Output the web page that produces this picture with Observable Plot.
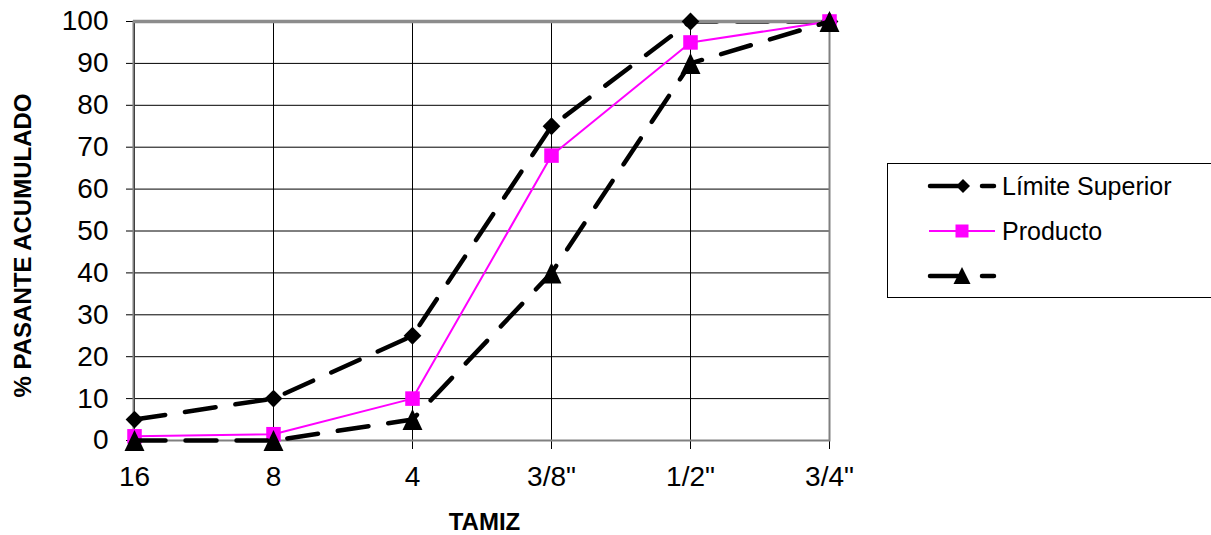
<!DOCTYPE html>
<html><head><meta charset="utf-8">
<script src="https://cdn.jsdelivr.net/npm/d3@7"></script>
<script src="https://cdn.jsdelivr.net/npm/@observablehq/plot@0.6"></script>
<style>
body{margin:0;background:#fff}
#chart{position:relative;width:1211px;height:535px;overflow:hidden}
</style>
</head><body><div id="chart"></div>
<script>
// ---- data ----
const tamiz = ["16", "8", "4", "3/8\"", "1/2\"", "3/4\""];
const limiteSuperior = [5, 10, 25, 75, 100, 100];
const producto = [1, 1.5, 10, 68, 95, 100];
const limiteInferior = [0, 0, 5, 40, 90, 100];
const yTicks = [0, 10, 20, 30, 40, 50, 60, 70, 80, 90, 100];
const legendLabels = ["Límite Superior", "Producto", ""];
const xTitle = "TAMIZ";
const yTitle = "% PASANTE ACUMULADO";

const rows = (vals, s) => tamiz.map((t, i) => ({tamiz: t, value: vals[i], serie: s}));
const sup = rows(limiteSuperior, "sup");
const prod = rows(producto, "prod");
const inf = rows(limiteInferior, "inf");

const FONT = "'Liberation Sans', Arial, sans-serif";
const DASH = "31,20";

// bounding-box centred triangle
const triangle = {
  draw(ctx, size) {
    const r = Math.sqrt(size / Math.PI);
    ctx.moveTo(0, -1.4 * r);
    ctx.lineTo(1.33 * r, 1.4 * r);
    ctx.lineTo(-1.33 * r, 1.4 * r);
    ctx.closePath();
  }
};

const plot = Plot.plot({
  width: 1211,
  height: 535,
  marginLeft: 133,
  marginRight: 382,
  marginTop: 21,
  marginBottom: 95,
  style: {fontFamily: FONT, fontSize: "28px", color: "black", background: "white"},
  x: {type: "point", domain: tamiz, padding: 0},
  y: {domain: [0, 100]},
  marks: [
    Plot.gridY(yTicks, {stroke: "black", strokeOpacity: 1, strokeWidth: 1}),
    Plot.gridX(tamiz, {stroke: "black", strokeOpacity: 1, strokeWidth: 1}),
    Plot.axisY(yTicks, {tickSize: 7, tickPadding: 18, label: null, stroke: "black"}),
    Plot.axisX(tamiz, {tickSize: 9, tickPadding: 17, label: null, stroke: "black"}),
    Plot.frame({stroke: "#808080", strokeWidth: 2}),
    Plot.line(sup, {x: "tamiz", y: "value", stroke: "black", strokeWidth: 4.5, strokeDasharray: DASH, strokeLinecap: "round", clip: true}),
    Plot.ruleY([100], {stroke: "#8c8c8c", strokeWidth: 3.5}),
    Plot.dot(sup, {x: "tamiz", y: "value", symbol: "diamond2", r: 8, fill: "black", stroke: "none"}),
    Plot.line(prod, {x: "tamiz", y: "value", stroke: "#FF00FF", strokeWidth: 2}),
    Plot.dot(prod, {x: "tamiz", y: "value", symbol: "square", r: 8.2, fill: "#FF00FF", stroke: "none"}),
    Plot.line(inf, {x: "tamiz", y: "value", stroke: "black", strokeWidth: 4.5, strokeDasharray: DASH, strokeLinecap: "round"}),
    Plot.dot(inf, {x: "tamiz", y: "value", symbol: triangle, r: 7.5, fill: "black", stroke: "none"}),
    Plot.text([yTitle], {frameAnchor: "left", dx: -110, dy: 14.5, rotate: -90, textAnchor: "middle", lineAnchor: "middle", fontSize: 24, fontWeight: "bold", fill: "black"}),
    Plot.text([xTitle], {frameAnchor: "bottom", dx: 3, dy: 82, textAnchor: "middle", lineAnchor: "middle", fontSize: 24, fontWeight: "bold", fill: "black"})
  ]
});
document.getElementById("chart").appendChild(plot);

// ---- legend ----
const svg = d3.select(plot);
const lg = svg.append("g").attr("font-family", FONT).attr("font-size", 25).attr("text-anchor", "start");
lg.append("rect").attr("x", 887.5).attr("y", 163.5).attr("width", 330).attr("height", 134)
  .attr("fill", "white").attr("stroke", "black").attr("stroke-width", 1);
const rowY = [186, 231, 276];
const kinds = ["sup", "prod", "inf"];
kinds.forEach((k, i) => {
  const y = rowY[i];
  if (k === "prod") {
    lg.append("line").attr("x1", 929).attr("x2", 995).attr("y1", y).attr("y2", y)
      .attr("stroke", "#FF00FF").attr("stroke-width", 2);
    lg.append("rect").attr("x", 962 - 6.5).attr("y", y - 6.5).attr("width", 13).attr("height", 13).attr("fill", "#FF00FF");
  } else {
    lg.append("line").attr("x1", 930).attr("x2", 994).attr("y1", y).attr("y2", y)
      .attr("stroke", "black").attr("stroke-width", 4.5).attr("stroke-linecap", "round").attr("stroke-dasharray", "28,24");
    if (k === "sup") {
      lg.append("path").attr("transform", `translate(963,${y})`).attr("d", "M0,-7L7,0L0,7L-7,0Z").attr("fill", "black");
    } else {
      lg.append("path").attr("transform", `translate(962,${y})`).attr("d", "M0,-9L8.5,8L-8.5,8Z").attr("fill", "black");
    }
  }
  lg.append("text").attr("x", 1002).attr("y", y).attr("dy", "0.35em").attr("text-anchor", "start").attr("fill", "black").text(legendLabels[i]);
});
</script>
</body></html>
